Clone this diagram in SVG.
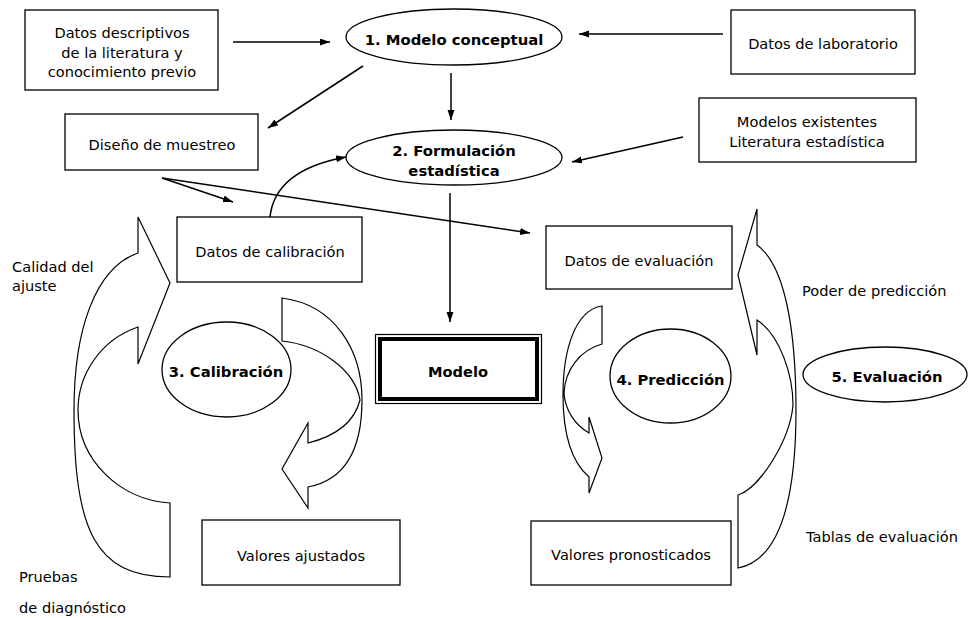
<svg xmlns="http://www.w3.org/2000/svg" width="968" height="618" viewBox="0 0 968 618">
  <defs>
    <marker id="head" markerUnits="userSpaceOnUse" markerWidth="11" markerHeight="8" refX="10" refY="3.5" orient="auto">
      <path d="M0,0 L10,3.5 L0,7 z" fill="#000"/>
    </marker>
  </defs>
  <style>
    .box { fill: #fff; stroke: #000; stroke-width: 1.3; }
    .oval { fill: #fff; stroke: #000; stroke-width: 1.3; }
    .t { font-family: "DejaVu Sans", Verdana, sans-serif; font-size: 14.6px; fill: #000; text-anchor: middle; }
    .lbl { font-family: "DejaVu Sans", Verdana, sans-serif; font-size: 14.6px; fill: #000; }
    .b { font-weight: bold; font-size: 14.8px; }
    .link { fill: none; stroke: #000; stroke-width: 1.5; marker-end: url(#head); }
    .band { fill: none; stroke: #000; stroke-width: 1.2; stroke-linejoin: miter; }
  </style>

  <rect width="968" height="618" fill="#fff"/>

  <!-- curved block arrows around the calibration and prediction stages -->
  <g id="cycle-arrows">
    <!-- outer left loop: Pruebas de diagnóstico -> Datos de calibración -->
    <g id="loop-calidad">
      <path class="band" d="M138,253 C95,268 74,330 74,410 C74,530 95,577 170,577 L170,503 C120,500 78,460 78,410 C78,375 100,340 138,327 L138,364 L170,283 L138,217 Z"/>
    </g>
    <!-- right of calibration: down to Valores ajustados -->
    <g id="loop-ajuste">
      <path class="band" d="M282,298 C335,305 362,350 362,400 C362,450 345,480 308,487 L308,508 L282,469 L308,423 L308,443 C340,435 355,420 360,400 C355,370 320,345 282,341 Z"/>
    </g>
    <!-- left of prediction: down to Valores pronosticados -->
    <g id="loop-prediccion">
      <path class="band" d="M602,306 C575,310 563,350 563,395 C563,440 575,465 589,477 L589,493 L602,458 L589,417 L589,433 C575,425 565,410 564,393 C565,370 580,350 602,344 Z"/>
    </g>
    <!-- outer right loop: Tablas de evaluación -> Datos de evaluación -->
    <g id="loop-evaluacion">
      <path class="band" d="M757,245 C785,265 796,330 796,410 C796,500 780,560 738,568 L738,495 C760,488 790,440 793,405 C793,375 780,335 757,320 L757,355 L738,275 L757,209 Z"/>
    </g>
  </g>

  <!-- connectors -->
  <g id="connectors">
    <line class="link" x1="233" y1="42" x2="330" y2="42"/>
    <line class="link" x1="723" y1="34" x2="579" y2="34"/>
    <line class="link" x1="451" y1="73" x2="451" y2="120"/>
    <line class="link" x1="363" y1="66" x2="268" y2="128"/>
    <line class="link" x1="683" y1="137" x2="572" y2="162"/>
    <line class="link" x1="162" y1="178" x2="233" y2="202"/>
    <line class="link" x1="162" y1="178" x2="530" y2="233"/>
    <path class="link" d="M270,217 Q275,170 346,157"/>
    <line class="link" x1="450" y1="193" x2="450" y2="322"/>
  </g>

  <g id="datos-descriptivos">
    <rect class="box" x="25" y="10" width="193" height="80"/>
    <text class="t" x="122" y="38">Datos descriptivos</text>
    <text class="t" x="122" y="58">de la literatura y</text>
    <text class="t" x="122" y="77">conocimiento previo</text>
  </g>

  <g id="modelo-conceptual">
    <ellipse class="oval" cx="454" cy="37" rx="108" ry="28"/>
    <text class="t b" x="454" y="45">1. Modelo conceptual</text>
  </g>

  <g id="datos-laboratorio">
    <rect class="box" x="731" y="10" width="184" height="64"/>
    <text class="t" x="823" y="49">Datos de laboratorio</text>
  </g>

  <g id="diseno-muestreo">
    <rect class="box" x="65" y="114" width="193" height="56"/>
    <text class="t" x="162" y="150">Diseño de muestreo</text>
  </g>

  <g id="formulacion">
    <ellipse class="oval" cx="454" cy="157.5" rx="108" ry="27.5"/>
    <text class="t b" x="454" y="156">2. Formulación</text>
    <text class="t b" x="454" y="175.5">estadística</text>
  </g>

  <g id="modelos-existentes">
    <rect class="box" x="699" y="98" width="217" height="64"/>
    <text class="t" x="807" y="127">Modelos existentes</text>
    <text class="t" x="807" y="147">Literatura estadística</text>
  </g>

  <g id="datos-calibracion">
    <rect class="box" x="177" y="217" width="185" height="65"/>
    <text class="t" x="270" y="257">Datos de calibración</text>
  </g>

  <g id="datos-evaluacion">
    <rect class="box" x="546" y="226" width="186" height="63"/>
    <text class="t" x="639" y="265.5">Datos de evaluación</text>
  </g>

  <g id="calibracion">
    <ellipse class="oval" cx="226.5" cy="369.5" rx="64.5" ry="47.5"/>
    <text class="t b" x="226" y="377">3. Calibración</text>
  </g>

  <g id="modelo">
    <rect x="375.5" y="334.5" width="166" height="69" fill="#fff" stroke="#000" stroke-width="1.2"/>
    <rect x="380" y="339" width="157" height="60" fill="none" stroke="#000" stroke-width="4"/>
    <text class="t" x="458" y="377" font-weight="bold" font-size="17.5">Modelo</text>
  </g>

  <g id="prediccion">
    <ellipse class="oval" cx="670.5" cy="376" rx="60.5" ry="47"/>
    <text class="t b" x="670.5" y="385">4. Predicción</text>
  </g>

  <g id="evaluacion">
    <ellipse class="oval" cx="885" cy="374.5" rx="82" ry="27.5"/>
    <text class="t b" x="887" y="381.5">5. Evaluación</text>
  </g>

  <g id="valores-ajustados">
    <rect class="box" x="202" y="520" width="198" height="65"/>
    <text class="t" x="301" y="560.5">Valores ajustados</text>
  </g>

  <g id="valores-pronosticados">
    <rect class="box" x="531" y="521" width="200" height="64"/>
    <text class="t" x="631" y="560">Valores pronosticados</text>
  </g>

  <!-- free labels beside the loops -->
  <g id="labels">
    <text class="lbl" x="12" y="272">Calidad del</text>
    <text class="lbl" x="12" y="291">ajuste</text>
    <text class="lbl" x="19" y="582">Pruebas</text>
    <text class="lbl" x="19" y="613">de diagnóstico</text>
    <text class="lbl" x="802" y="295.5">Poder de predicción</text>
    <text class="lbl" x="806" y="542">Tablas de evaluación</text>
  </g>
</svg>
